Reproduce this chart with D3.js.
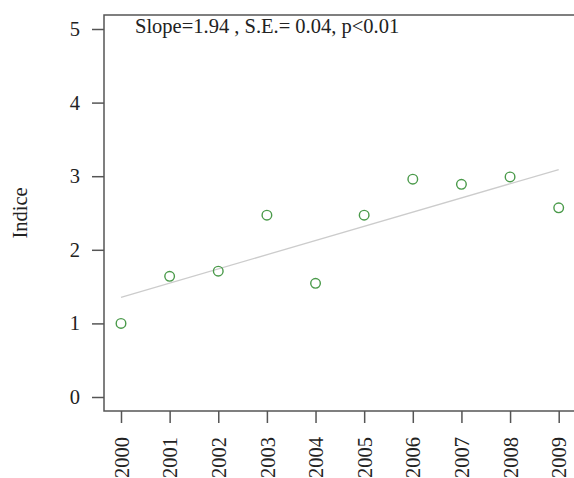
<!DOCTYPE html>
<html><head><meta charset="utf-8">
<script src="https://cdn.jsdelivr.net/npm/d3@7"></script>
<style>body{margin:0;background:#fff}svg{display:block}text{font-family:"Liberation Serif","Times New Roman",serif;fill:#222}</style>
</head><body><div id="c"></div>
<script>
const years = [2000,2001,2002,2003,2004,2005,2006,2007,2008,2009];
const indice = [1.00,1.64,1.71,2.47,1.545,2.47,2.96,2.89,2.99,2.57];
const fitYears = [2000,2009];
const fitValues = [1.355,3.09];
const yTicks = [0,1,2,3,4,5];
const statsLabel = "Slope=1.94 , S.E.= 0.04, p<0.01";
const yLabel = "Indice";

const W=574,H=478,FS=20.5;
const svg=d3.select("#c").append("svg").attr("width",W).attr("height",H);
const x=d3.scaleLinear().domain([2000,2009]).range([121,558.7]);
const y=d3.scaleLinear().domain([0,5]).range([397,29]);
const box={l:104,t:15,b:411,r:590};

svg.append("rect").attr("x",box.l).attr("y",box.t).attr("width",box.r-box.l).attr("height",box.b-box.t)
  .attr("fill","none").attr("stroke","#555").attr("stroke-width",1.5);

// y axis
const ya=svg.append("g").attr("transform",`translate(${box.l},0)`)
  .call(d3.axisLeft(y).tickValues(yTicks).tickSize(12).tickPadding(12).tickFormat(d3.format("d")));
ya.select(".domain").remove();
ya.selectAll("line").attr("stroke","#555").attr("stroke-width",1.5);
ya.selectAll("text").attr("font-size",FS).attr("font-family","Liberation Serif").attr("fill","#222");

// x axis
const xa=svg.append("g").attr("transform",`translate(0,${box.b})`)
  .call(d3.axisBottom(x).tickValues(years).tickSize(12).tickFormat(d3.format("d")));
xa.select(".domain").remove();
xa.selectAll("line").attr("stroke","#555").attr("stroke-width",1.5);
xa.selectAll("text").attr("font-size",FS).attr("font-family","Liberation Serif").attr("fill","#222")
  .attr("transform","rotate(-90)").attr("text-anchor","end").attr("x",-26).attr("y",0).attr("dy","0.35em");

// fit line
svg.append("line").attr("x1",x(fitYears[0])).attr("y1",y(fitValues[0]))
  .attr("x2",x(fitYears[1])).attr("y2",y(fitValues[1])).attr("stroke","#cccccc").attr("stroke-width",1.3);

// points
svg.selectAll("circle.p").data(years).enter().append("circle").attr("class","p")
  .attr("cx",d=>x(d)).attr("cy",(d,i)=>y(indice[i])).attr("r",4.8)
  .attr("fill","none").attr("stroke","#4a9a4a").attr("stroke-width",1.4);

svg.append("text").attr("x",135).attr("y",33).attr("font-size",FS).text(statsLabel);
svg.append("text").attr("transform",`translate(27,${(box.t+box.b)/2}) rotate(-90)`)
  .attr("text-anchor","middle").attr("font-size",FS).text(yLabel);
</script></body></html>
